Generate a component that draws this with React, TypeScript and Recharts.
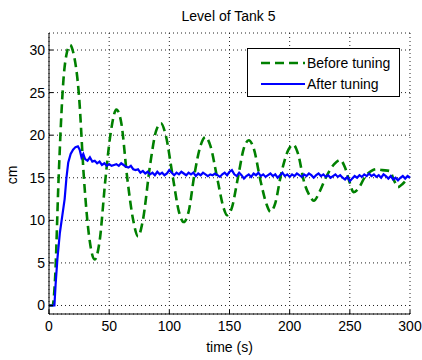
import React from "react";
import { LineChart, Line, XAxis, YAxis, CartesianGrid } from "recharts";

const xTicks = [0, 50, 100, 150, 200, 250, 300];
const yTicks = [0, 5, 10, 15, 20, 25, 30];

const beforeTime = [0, 3, 5, 8, 12, 15, 17.5, 20, 25, 29, 33, 38, 42, 47, 51, 56, 60, 65, 70, 74, 78, 84, 89, 93, 97, 103, 108, 112, 116, 121, 126, 130, 134, 140, 145, 148, 152, 157, 162, 166, 170, 176, 181, 184, 188, 193, 199, 203, 207, 212, 217, 220, 225, 230, 237, 242, 246, 250, 253, 257, 263, 268, 272, 277, 283, 287, 290, 294, 299];
const beforeLevel = [0, 0, 3, 15, 26.5, 29.8, 30.6, 29.8, 24.5, 15, 8.5, 5.4, 7.5, 15, 20, 23, 21.5, 15, 10, 8.1, 10, 16.5, 20.5, 21.4, 20, 15, 11, 9.8, 11, 15.5, 18.8, 19.8, 18.8, 14.8, 11.5, 10.6, 11.5, 15, 18.5, 19.4, 18.5, 14.5, 11.8, 11.0, 12, 15.5, 18.3, 18.9, 17.8, 14.5, 12.8, 12.3, 13.4, 15, 16.6, 17.1, 16.2, 14.4, 13.3, 13.7, 15.2, 15.8, 16.0, 15.9, 15.8, 14.6, 13.9, 14.3, 15.1];

const afterTime = [0, 4.5, 5.5, 7, 9, 11, 13, 14.5, 16, 18, 20, 22, 24, 25.5, 27, 28.5, 30, 32, 34, 36, 38, 40, 42, 44, 46, 48, 50, 52, 54, 56, 58, 60, 62, 64, 66, 68, 70, 72, 74, 76, 78, 80, 82, 84, 86, 88, 90, 92, 94, 96, 98, 100, 102, 104, 106, 108, 110, 112, 114, 116, 118, 120, 122, 124, 126, 128, 130, 132, 134, 136, 138, 140, 142, 144, 146, 148, 150, 152, 154, 156, 158, 160, 162, 164, 166, 168, 170, 172, 174, 176, 178, 180, 182, 184, 186, 188, 190, 192, 194, 196, 198, 200, 202, 204, 206, 208, 210, 212, 214, 216, 218, 220, 222, 224, 226, 228, 230, 232, 234, 236, 238, 240, 242, 244, 246, 248, 250, 252, 254, 256, 258, 260, 262, 264, 266, 268, 270, 272, 274, 276, 278, 280, 282, 284, 286, 288, 290, 292, 294, 296, 298, 300];
const afterLevel = [0, 0, 2.5, 5.5, 8.5, 10.5, 12.5, 15, 16.8, 17.8, 18.3, 18.6, 18.7, 18.3, 17.4, 17.8, 17.2, 17.0, 17.4, 16.9, 17.0, 16.7, 16.9, 16.5, 16.7, 16.4, 16.6, 16.4, 16.5, 16.6, 16.4, 16.7, 16.5, 16.3, 16.2, 16.4, 16.0, 15.9, 16.0, 15.6, 15.8, 15.5, 15.7, 15.4, 15.6, 15.3, 15.7, 15.4, 15.6, 15.3, 15.5, 15.9, 15.6, 15.3, 15.6, 15.4, 15.7, 15.5, 15.3, 15.6, 15.4, 15.6, 15.2, 15.5, 15.3, 15.6, 15.4, 15.2, 15.4, 15.3, 15.5, 15.3, 15.1, 15.4, 15.6, 15.3, 15.7, 15.9, 15.4, 15.2, 15.6, 15.3, 14.9, 15.2, 15.4, 15.1, 15.5, 15.3, 15.6, 15.2, 15.4, 15.1, 15.3, 15.5, 15.2, 15.4, 15.0, 15.3, 15.6, 15.2, 15.4, 15.1, 15.4, 15.2, 15.5, 15.3, 15.1, 15.4, 15.2, 15.5, 15.3, 15.0, 15.3, 15.5, 15.2, 15.4, 15.1, 15.3, 15.0, 15.2, 15.4, 15.1, 15.3, 15.0, 14.8, 15.1, 14.6, 14.9, 15.2, 15.0, 15.3, 15.1, 15.4, 15.2, 15.5, 15.2, 15.4, 15.1, 15.3, 15.0, 15.4, 15.2, 14.9, 15.2, 14.8, 15.0, 14.7, 15.0, 15.2, 14.9, 15.2, 15.0];

const seriesNames = ["Before tuning", "After tuning"];
const beforeData = beforeTime.map((t, i) => ({ t, v: beforeLevel[i] }));
const afterData = afterTime.map((t, i) => ({ t, v: afterLevel[i] }));

const FONT = "'Liberation Sans', Arial, sans-serif";
const GREEN = "#008000";
const BLUE = "#0000ff";

export default function App() {
  React.useLayoutEffect(() => {
    document.body.style.margin = "0";
  }, []);
  const tickStyle = { fill: "#000", fontSize: 14, fontFamily: FONT };
  const textBase: React.CSSProperties = { position: "absolute", fontSize: 14, lineHeight: "16px", color: "#000", whiteSpace: "nowrap" };
  return (
    <div style={{ position: "relative", width: 422, height: 360, overflow: "hidden", fontFamily: FONT, background: "#fff" }}>
      <div style={{ position: "absolute", left: 8, top: 8 }}>
        <LineChart width={414} height={352} data={beforeData} margin={{ top: 25, right: 12, left: 0, bottom: 0 }}>
          <CartesianGrid xAxisId="b" yAxisId="l" stroke="#222" strokeDasharray="1 3" strokeWidth={1} />
          <XAxis xAxisId="b" dataKey="t" type="number" domain={[0, 300]} ticks={xTicks} interval={0}
            tick={tickStyle} height={46} tickSize={-4} tickMargin={11} stroke="#000" axisLine={{ stroke: "#000" }} tickLine={{ stroke: "#000" }} />
          <XAxis xAxisId="top" orientation="top" dataKey="t" type="number" domain={[0, 300]} ticks={xTicks} interval={0}
            tick={false} height={0} tickSize={-4} stroke="#000" />
          <YAxis yAxisId="l" type="number" domain={[-1, 32]} ticks={yTicks} interval={0}
            tick={tickStyle} width={41} tickSize={-4} tickMargin={8} stroke="#000" />
          <YAxis yAxisId="r" orientation="right" type="number" domain={[-1, 32]} ticks={yTicks} interval={0}
            tick={false} width={0} tickSize={-4} stroke="#000" />
          <Line xAxisId="b" yAxisId="l" data={beforeData} dataKey="v" name={seriesNames[0]} type="monotone"
            stroke={GREEN} strokeWidth={2.6} strokeDasharray="9 5" dot={false} isAnimationActive={false} />
          <Line xAxisId="b" yAxisId="l" data={afterData} dataKey="v" name={seriesNames[1]} type="linear"
            stroke={BLUE} strokeWidth={2.2} dot={false} isAnimationActive={false} />
        </LineChart>
      </div>
      <div style={{ ...textBase, left: 128, top: 8, width: 201, textAlign: "center" }}>Level of Tank 5</div>
      <div style={{ ...textBase, left: 129, top: 339, width: 201, textAlign: "center" }}>time (s)</div>
      <div style={{ ...textBase, left: -8, top: 167, width: 40, textAlign: "center", transform: "rotate(-90deg)" }}>cm</div>
      <div style={{ position: "absolute", left: 247, top: 48, width: 151, height: 47, border: "1px solid #000", background: "#fff", fontSize: 14 }}>
        {[0, 1].map((i) => (
          <div key={i} style={{ position: "absolute", left: 0, top: i === 0 ? 6 : 27, height: 16, width: 151 }}>
            <svg width={46} height={16} style={{ position: "absolute", left: 12, top: 0 }}>
              <line x1={1} y1={8} x2={45} y2={8} stroke={i === 0 ? GREEN : BLUE} strokeWidth={i === 0 ? 2.6 : 2}
                strokeDasharray={i === 0 ? "9 5" : undefined} />
            </svg>
            <span style={{ ...textBase, left: 59, top: 0 }}>{seriesNames[i]}</span>
          </div>
        ))}
      </div>
    </div>
  );
}
